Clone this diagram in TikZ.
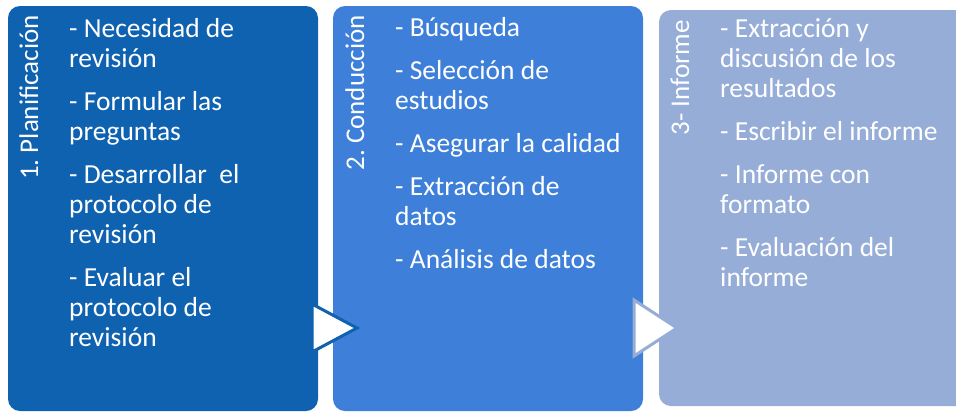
\documentclass[tikz,border=0pt]{standalone}
\usepackage{fontspec}
\setmainfont{Carlito}
\frenchspacing
\definecolor{pone}{HTML}{0F62B0}
\definecolor{ptwo}{HTML}{3E80D9}
\definecolor{pthree}{HTML}{96ADD8}
\tikzset{
  panel/.style={rounded corners=12pt},
  ttl/.style={rotate=90, anchor=base east, inner sep=0pt, text=white, font=\fontsize{27}{30}\selectfont},
  lst/.style={anchor=base west, inner sep=0pt, text=white},
  chev/.style={fill=white, line width=3pt, line join=miter}
}
\newcommand{\lstbox}[1]{\parbox[t]{250pt}{\fontsize{27.5}{30}\selectfont\raggedright\frenchspacing\setlength{\parskip}{13pt}#1}}
\begin{document}
\begin{tikzpicture}[x=1pt,y=-1pt]
\clip (0,0) rectangle (956,413);
\fill[white] (0,0) rectangle (956,413);
% panels
\fill[panel, pone] (8,6) rectangle (318,411);
\fill[panel, ptwo] (333,6) rectangle (643,411);
\fill[panel, pthree] (659,10) rectangle (975,406);
% titles
\node[ttl] (t1) at (38,15) {1. Planificación};
\node[ttl] (t2) at (364,15) {2. Conducción};
\node[ttl] (t3) at (689,20) {3- Informe};
% lists
\node[lst] (l1) at (69,37) {\lstbox{- Necesidad de\\revisión\par - Formular las\\preguntas\par - Desarrollar~ el\\protocolo de\\revisión\par - Evaluar el\\protocolo de\\revisión}};
\node[lst] (l2) at (395,36) {\lstbox{- Búsqueda\par - Selección de\\estudios\par - Asegurar la calidad\par - Extracción de\\datos\par - Análisis de datos}};
\node[lst] (l3) at (720,37) {\lstbox{- Extracción y\\discusión de los\\resultados\par - Escribir el informe\par - Informe con\\formato\par - Evaluación del\\informe}};
% chevrons
\draw[chev, draw=pone] (312,304) coordinate (a1) -- (357,328) coordinate (b1) -- (312,352) coordinate (c1) -- cycle;
\draw[chev, draw=pthree] (634,300) coordinate (a2) -- (677,328) coordinate (b2) -- (634,356) coordinate (c2) -- cycle;
\end{tikzpicture}
\end{document}
